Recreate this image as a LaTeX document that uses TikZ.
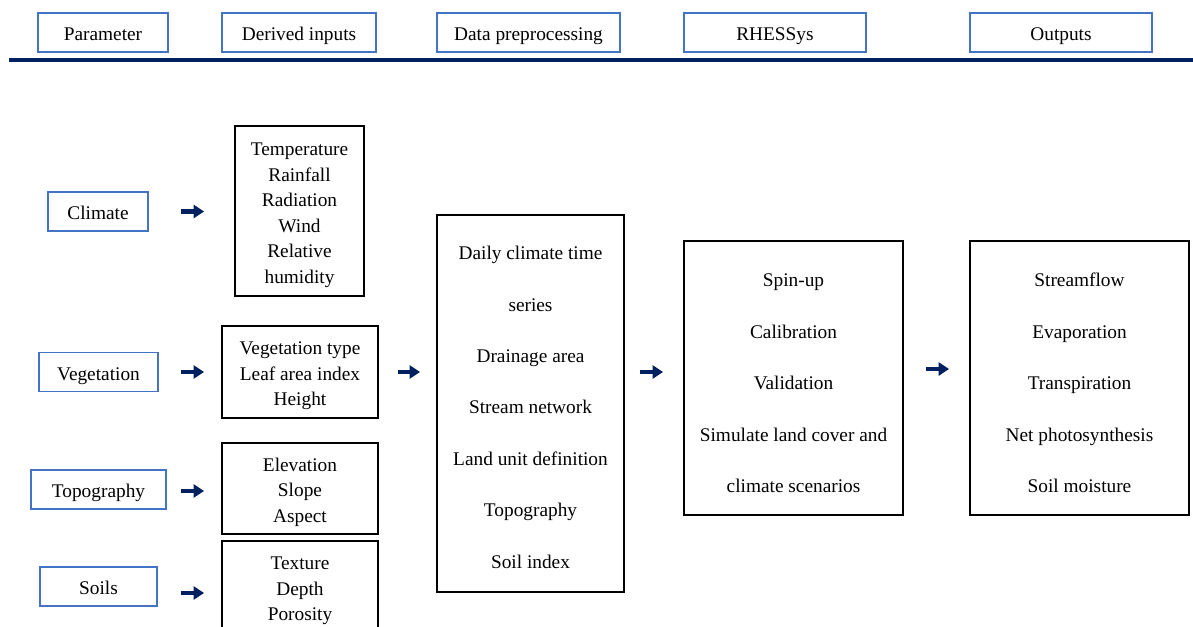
\documentclass[tikz,border=0pt]{standalone}
\usepackage{fontspec}
\setmainfont{Liberation Serif}
\usetikzlibrary{arrows.meta, positioning, calc}
\definecolor{navy}{HTML}{002060}
\definecolor{frameblue}{HTML}{4472C4}
\newcommand{\topstrut}[1][12pt]{\rule{0pt}{#1}}

\begin{document}
\begin{tikzpicture}[
    x=0.02cm, y=-0.02cm,
    every node/.style={font=\fontsize{11}{14.5}\selectfont, align=center, inner sep=0pt},
    head/.style={draw=frameblue, line width=0.8pt, minimum height=0.78cm, text height=9.6pt, text depth=0pt},
    param/.style={draw=frameblue, line width=0.8pt, minimum height=0.78cm, text height=9.6pt, text depth=0pt},
    box/.style={draw=black, line width=1.1pt},
    wide/.style={box, font=\fontsize{11}{29.3}\selectfont, minimum height=5.48cm, minimum width=4.38cm},
    arr/.style={-{Triangle[length=6pt,width=7.5pt]}, line width=2.8pt, draw=navy}
]
    \useasboundingbox (0,0) rectangle (1193,626);

    \node[head, minimum width=2.6cm]  (hpar)  at (103,   32.5) {Parameter};
    \node[head, minimum width=3.08cm] (hder)  at (299,   32.5) {Derived inputs};
    \node[head, minimum width=3.66cm] (hpre)  at (528.5, 32.5) {Data preprocessing};
    \node[head, minimum width=3.64cm] (hrhe)  at (775,   32.5) {RHESSys};
    \node[head, minimum width=3.64cm] (hout)  at (1061,  32.5) {Outputs};
    \draw[line width=2.8pt, navy] (9,60) -- (1193,60);

    \node[param, minimum width=2.0cm]  (clim) at (98,   211.5) {Climate};
    \node[param, minimum width=2.38cm] (veg)  at (98.5, 372)   {Vegetation};
    \node[param, minimum width=2.7cm]  (topo) at (98.5, 489.5) {Topography};
    \node[param, minimum width=2.34cm] (soil) at (98.5, 586.5) {Soils};

    \node[box, minimum width=2.58cm, minimum height=3.4cm]  (climin) at (299.5, 211)
        {\topstrut Temperature\\Rainfall\\Radiation\\Wind\\Relative\\humidity};
    \node[box, minimum width=3.12cm, minimum height=1.84cm] (vegin)  at (300, 372)
        {\topstrut Vegetation type\\Leaf area index\\Height};
    \node[box, minimum width=3.12cm, minimum height=1.82cm] (topoin) at (300, 488.5)
        {\topstrut Elevation\\Slope\\Aspect};
    \node[box, minimum width=3.12cm, minimum height=1.84cm] (soilin) at (300, 587)
        {\topstrut Texture\\Depth\\Porosity};

    \node[wide, minimum width=3.74cm, minimum height=7.54cm] (prep) at (530.5, 403.5)
        {\topstrut Daily climate time\\series\\Drainage area\\Stream network\\Land unit definition\\Topography\\Soil index};
    \node[wide] (rhessys) at (793.5, 378)
        {\topstrut[13.3pt]Spin-up\\Calibration\\Validation\\Simulate land cover and\\climate scenarios};
    \node[wide] (out) at (1079.5, 378)
        {\topstrut[13.3pt]Streamflow\\Evaporation\\Transpiration\\Net photosynthesis\\Soil moisture};

    \coordinate (topoa) at ($(topo.east)+(0,1.5)$);
    \coordinate (soila) at ($(soil.east)+(0,6.5)$);
    \coordinate (rhea)  at ($(rhessys.east)+(0,-9)$);

    \draw[arr, shorten <=0.64cm, shorten >=0.6cm]  (clim.east) -- (clim.east -| climin.west);
    \draw[arr, shorten <=0.44cm, shorten >=0.34cm] (veg.east)  -- (vegin.west);
    \draw[arr, shorten <=0.28cm, shorten >=0.34cm] (topoa) -- (topoa -| topoin.west);
    \draw[arr, shorten <=0.46cm, shorten >=0.34cm] (soila) -- (soila -| soilin.west);
    \draw[arr, shorten <=0.38cm, shorten >=0.32cm] (vegin.east) -- (vegin.east -| prep.west);
    \draw[arr, shorten <=0.3cm, shorten >=0.4cm]   (prep.east |- vegin) -- (rhessys.west |- vegin);
    \draw[arr, shorten <=0.44cm, shorten >=0.4cm]  (rhea) -- (rhea -| out.west);
\end{tikzpicture}
\end{document}
